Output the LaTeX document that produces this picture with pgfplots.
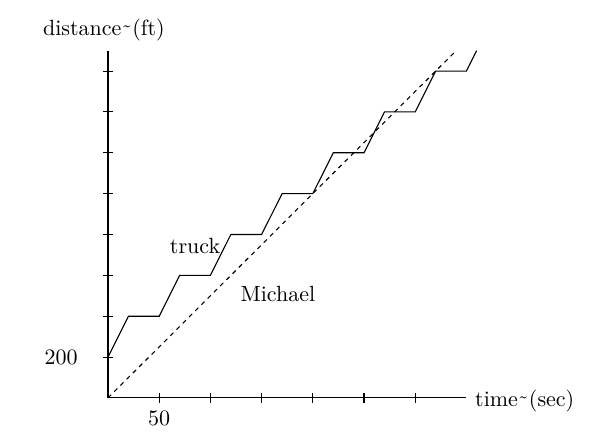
\documentclass[border=0pt]{standalone}
\usepackage{pgfplots}
\pgfplotsset{compat=1.18}
\newcommand{\tld}{\raisebox{-0.55ex}{\fontencoding{OT1}\fontfamily{cmr}\selectfont\char126}}
\begin{document}
\begin{tikzpicture}
\useasboundingbox (-49.1pt,-18.6pt) rectangle (227.3pt,180.9pt);
\begin{axis}[
  x=0.4655pt, y=0.09286pt,
  anchor=south west, at={(0,0)},
  xmin=0, xmax=350, ymin=0, ymax=1700,
  axis lines=left, axis line style={-, line width=0.5pt},
  tick align=center,
  major tick length=4.5pt,
  tick style={black, line width=0.5pt},
  xtick={50,100,150,200,250,300},
  xticklabels={50,,,,,},
  ytick={200,400,600,800,1000,1200,1400,1600},
  yticklabels={200,,,,,,,},
  yticklabel style={xshift=-8pt},
  clip=false,
]
\addplot[black, line width=0.5pt] coordinates {
  (0,200) (20,400) (50,400) (70,600) (100,600) (120,800) (150,800)
  (170,1000) (200,1000) (220,1200) (250,1200) (270,1400) (300,1400)
  (320,1600) (350,1600) (360,1700)
};
\addplot[black, line width=0.5pt, dash pattern=on 2pt off 2pt] coordinates {
  (0,0) (340,1700)
};
\node at (axis cs:-4,1801) {distance\tld(ft)};
\node at (axis cs:407,-15) {time\tld(sec)};
\node at (axis cs:85,744) {truck};
\node at (axis cs:166,509) {Michael};
\end{axis}
\end{tikzpicture}
\end{document}
